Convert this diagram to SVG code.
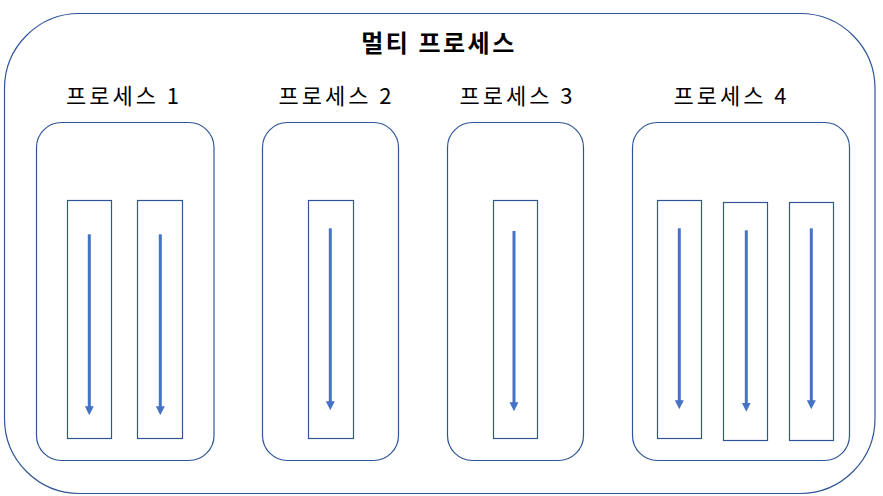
<svg xmlns="http://www.w3.org/2000/svg" width="883" height="496" viewBox="0 0 883 496">
<style>
.box{fill:#fff;stroke:#2F5597;stroke-width:1.2}
.th{fill:none;stroke:#2F5597;stroke-width:1.2}
.arr{stroke:#4472C4;stroke-width:3;fill:none;marker-end:url(#ah)}
.lbl{font-family:"Noto Sans CJK KR","Noto Sans",sans-serif;font-size:22px;letter-spacing:3px;fill:#000;text-anchor:middle}
.ttl{font-family:"Noto Sans CJK KR","Noto Sans",sans-serif;font-size:24px;letter-spacing:2.5px;font-weight:bold;fill:#000;text-anchor:middle}
</style>
<defs>
<marker id="ah" viewBox="0 0 10 10" refX="2" refY="5" markerWidth="3" markerHeight="3.2" orient="auto" markerUnits="strokeWidth">
<path d="M0,0 L10,5 L0,10 z" fill="#4472C4"/>
</marker>
</defs>
<rect width="883" height="496" fill="#fff"/>
<g id="multi-process">
<rect class="box" x="4.5" y="13.5" width="870.5" height="480" rx="75" ry="75"/>
<text class="ttl" x="439" y="52">멀티 프로세스</text>
</g>
<g id="process1">
<text class="lbl" x="124" y="104">프로세스 1</text>
<rect class="box" x="36.5" y="122.5" width="177.5" height="338" rx="25" ry="25"/>
<rect class="th" x="67.5" y="200.5" width="44" height="238"/>
<rect class="th" x="137.5" y="200.5" width="45" height="238"/>
</g>
<g id="process2">
<text class="lbl" x="336.5" y="104">프로세스 2</text>
<rect class="box" x="262.5" y="122.5" width="136" height="338" rx="25" ry="25"/>
<rect class="th" x="308.5" y="200.5" width="45" height="238"/>
</g>
<g id="process3">
<text class="lbl" x="517.5" y="104">프로세스 3</text>
<rect class="box" x="447.5" y="122.5" width="136" height="338" rx="25" ry="25"/>
<rect class="th" x="493.5" y="200.5" width="44" height="238"/>
</g>
<g id="process4">
<text class="lbl" x="731.5" y="104">프로세스 4</text>
<rect class="box" x="632.5" y="122.5" width="217" height="338" rx="25" ry="25"/>
<rect class="th" x="657.5" y="200.5" width="44" height="238"/>
<rect class="th" x="723.5" y="202.5" width="44" height="238"/>
<rect class="th" x="789.5" y="202.5" width="44" height="238"/>
</g>
<g id="connectors">
<line class="arr" x1="89.3" y1="234.3" x2="89.3" y2="408"/>
<line class="arr" x1="160.3" y1="234.3" x2="160.3" y2="408"/>
<line class="arr" x1="330.3" y1="228.3" x2="330.3" y2="403"/>
<line class="arr" x1="514" y1="231" x2="514" y2="404"/>
<line class="arr" x1="679.3" y1="228.3" x2="679.3" y2="402"/>
<line class="arr" x1="746.3" y1="230.3" x2="746.3" y2="404.5"/>
<line class="arr" x1="811.3" y1="228.3" x2="811.3" y2="402"/>
</g>
</svg>
